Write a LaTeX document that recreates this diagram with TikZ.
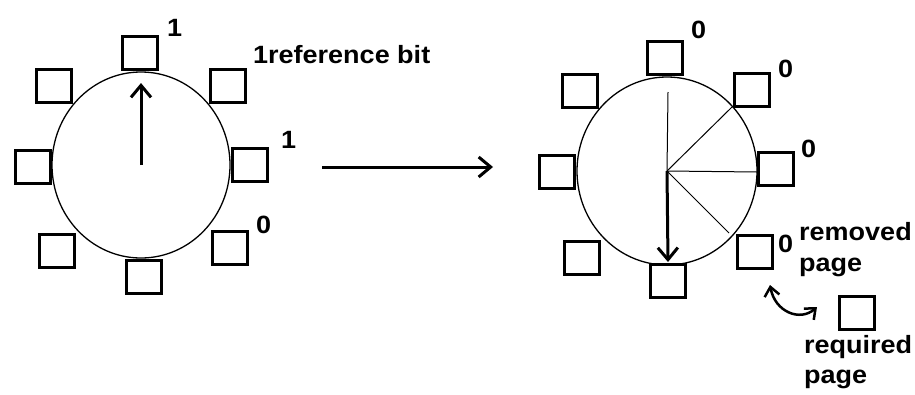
\documentclass[tikz,border=0pt]{standalone}
\usepackage{fontspec}
\setmainfont[FakeStretch=1.08]{Liberation Sans}
\usetikzlibrary{arrows.meta,shapes.geometric}
\tikzset{
  page/.style={draw, line width=3.2pt, minimum width=35pt, minimum height=33pt, inner sep=0pt},
  dial/.style={draw, line width=1.3pt},
  hand/.style={line width=3pt, -{Straight Barb[length=12pt,width=20pt,line width=3pt]}},
  sweep/.style={line width=1pt},
  lbl/.style={inner sep=0pt, anchor=base west, font=\fontsize{25}{29}\selectfont\bfseries},
  swap/.style={line width=2.5pt, {Straight Barb[length=9pt,width=15pt,line width=2.5pt]}-{Straight Barb[length=9pt,width=15pt,line width=2.5pt]}}
}
\begin{document}
\begin{tikzpicture}[x=1pt,y=-1pt]
\useasboundingbox (0,0) rectangle (915,394);

% ---- clock before the sweep ----
\coordinate (lc) at (141,165);
\draw[dial] (lc) ellipse [x radius=89, y radius=93];
\node[page] (l1) at (140,53) {};
\node[page] (l2) at (228,86) {};
\node[page] (l3) at (250,165) {};
\node[page] (l4) at (230,248) {};
\node[page] (l5) at (144,277) {};
\node[page] (l6) at (57,251) {};
\node[page] (l7) at (33,167) {};
\node[page] (l8) at (54,86) {};
\coordinate (lhand) at (141,83);
\draw[hand] (lc) -- (lhand);

\node[lbl] (b1) at (167,36) {1};
\node[lbl] (b2) at (253,63) {1reference bit};
\node[lbl] (b3) at (281,148) {1};
\node[lbl] (b4) at (256,233) {0};

% ---- transition ----
\coordinate (ta) at (322,167);
\coordinate (tb) at (493,167);
\draw[hand] (ta) -- (tb);

% ---- clock after the sweep ----
\coordinate (rc) at (667,171);
\draw[dial] (rc) ellipse [x radius=90, y radius=94];
\node[page] (r1) at (665,58) {};
\node[page] (r2) at (752,90) {};
\node[page] (r3) at (776,169) {};
\node[page] (r4) at (755,252) {};
\node[page] (r5) at (668,281) {};
\node[page] (r6) at (582,258) {};
\node[page] (r7) at (557,172) {};
\node[page] (r8) at (580,91) {};
\node[page] (req) at (857,313) {};

\coordinate (s1) at (668,92);
\coordinate (s2) at (732,107);
\coordinate (s3) at (757,172);
\coordinate (s4) at (729,233);
\foreach \s in {s1,s2,s3,s4} \draw[sweep] (rc) -- (\s);
\coordinate (rhand) at (668,262);
\draw[hand] (rc) -- (rhand);

\node[lbl] (z1) at (691,38) {0};
\node[lbl] (z2) at (778,77) {0};
\node[lbl] (z3) at (801,157) {0};
\node[lbl] (z4) at (778,252) {0};
\node[lbl] (rm1) at (799,240) {removed};
\node[lbl] (rm2) at (799,271) {page};
\node[lbl] (rq1) at (804,353) {required};
\node[lbl] (rq2) at (804,383) {page};

% exchange between the removed page and the required one
\coordinate (xa) at (770,285);
\coordinate (xb) at (817,307);
\draw[swap] (xa) .. controls (775,312) and (800,322) .. (xb);
\end{tikzpicture}
\end{document}
